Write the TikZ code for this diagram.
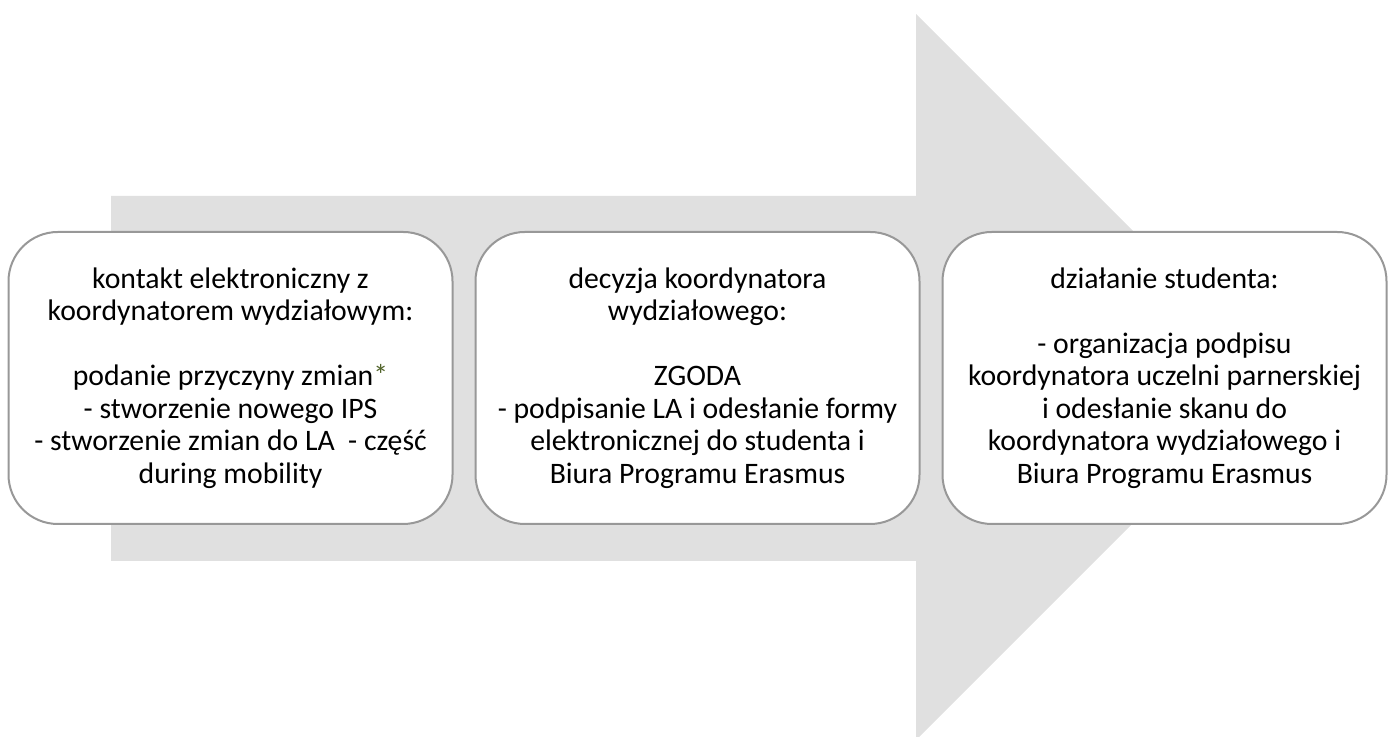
\documentclass[tikz,border=0pt]{standalone}
\usepackage{fontspec}
\setmainfont{Carlito}
\usepackage{tikz}
\usetikzlibrary{positioning}
\definecolor{arrowgray}{RGB}{224,224,224}
\definecolor{boxline}{RGB}{152,152,152}
\definecolor{stargreen}{RGB}{79,98,40}
\tikzset{ProcBox/.style={shape=rectangle,draw=boxline,line width=1.5pt,fill=white,rounded corners=37pt,minimum width=333pt,minimum height=219pt,align=center,inner sep=0pt,font=\fontsize{22.3pt}{24.4pt}\selectfont}}

\begin{document}
\begin{tikzpicture}[x=0.75pt,y=0.75pt]
	\useasboundingbox (0,0) rectangle (1389,737);
	% big arrow behind the boxes
	\fill[arrowgray] (111,176) -- (916,176) -- (916,-3) -- (1279,360) -- (916,723) -- (916,541) -- (111,541) -- cycle;
	%
	\node[ProcBox] (kontakt) at (230.5,359) {kontakt elektroniczny z\\ koordynatorem wydziałowym:\\ \mbox{}\\ podanie przyczyny zmian{\color{stargreen}*}\\ - stworzenie nowego IPS\\ - stworzenie zmian do LA~ - część\\ during mobility};
	\node[ProcBox,right=15.75pt of kontakt] (decyzja) {decyzja koordynatora\\ wydziałowego:\\ \mbox{}\\ ZGODA\\ - podpisanie LA i odesłanie formy\\ elektronicznej do studenta i\\ Biura Programu Erasmus};
	\node[ProcBox,right=15.75pt of decyzja] (student) {działanie studenta:\\ \mbox{}\\ - organizacja podpisu\\ koordynatora uczelni parnerskiej\\ i odesłanie skanu do\\ koordynatora wydziałowego i\\ Biura Programu Erasmus};
\end{tikzpicture}
\end{document}
